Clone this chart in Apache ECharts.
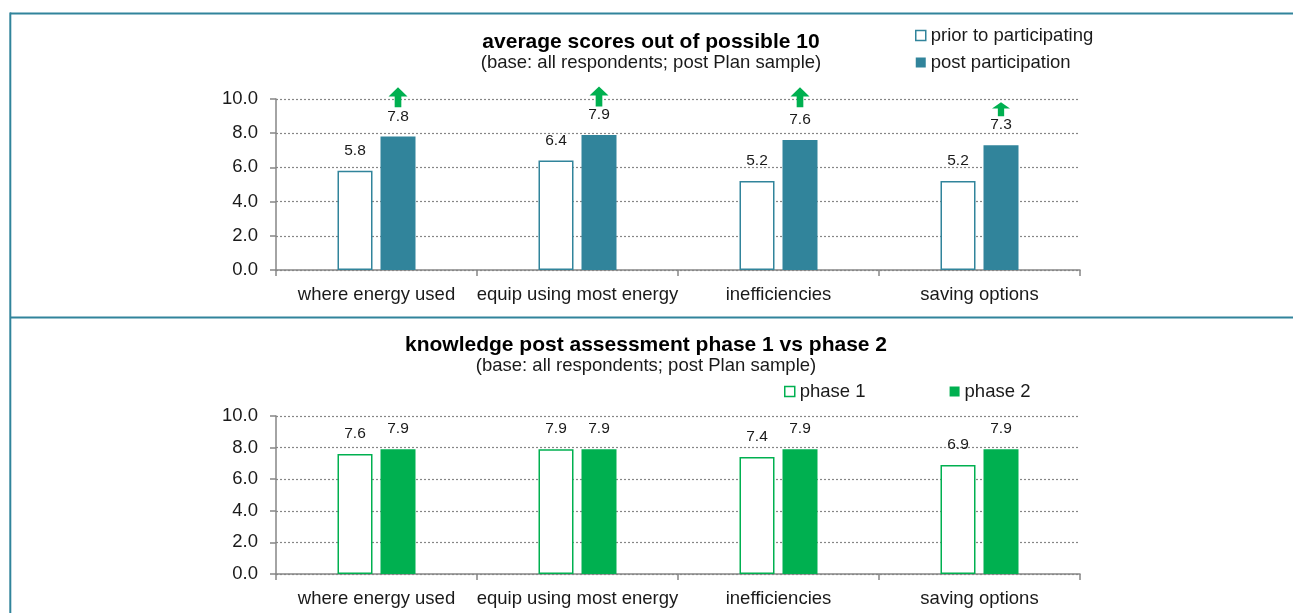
<!DOCTYPE html>
<html>
<head>
<meta charset="utf-8">
<script src="https://cdn.jsdelivr.net/npm/echarts@6/dist/echarts.min.js"></script>
<style>
  html, body { margin: 0; padding: 0; background: #fff; }
  #chart { width: 1293px; height: 613px; }
</style>
</head>
<body>
<div id="chart"></div>
<script>
// Knowledge scores by topic
const categories = ['where energy used', 'equip using most energy', 'inefficiencies', 'saving options'];
const yTicks = [0, 2, 4, 6, 8, 10];

// Upper panel: before vs after participating
const priorScores = [5.8, 6.4, 5.2, 5.2];
const postScores = [7.8, 7.9, 7.6, 7.3];
// Improvement arrows drawn above each post-participation bar
const arrowLevels = [10.1, 10.15, 10.1, 9.4];

// Lower panel: phase 1 vs phase 2
const phase1Scores = [7.6, 7.9, 7.4, 6.9];
const phase2Scores = [7.9, 7.9, 7.9, 7.9];

const TEAL = '#31849B';
const GREEN = '#00B050';
const AXIS_GREY = '#868686';
const FONT = '"Liberation Sans", Arial, sans-serif';
const TEXT = '#1a1a1a';

const BAR_W = 35;
const BAR_GAP = 8;

const chart = echarts.init(document.getElementById('chart'), null, { renderer: 'canvas' });

function xAxisFor(gridIndex) {
  return {
    type: 'category', gridIndex, data: categories,
    axisLine: { lineStyle: { color: AXIS_GREY, width: 1.5 } },
    axisTick: { show: true, length: 6, lineStyle: { color: AXIS_GREY, width: 1.5 } },
    axisLabel: { color: TEXT, fontSize: 18.5, fontFamily: FONT, margin: 15, interval: 0, hideOverlap: false }
  };
}
function yAxisFor(gridIndex) {
  return {
    type: 'value', gridIndex, min: yTicks[0], max: yTicks[yTicks.length - 1], interval: 2,
    axisLine: { show: true, lineStyle: { color: AXIS_GREY, width: 1.5 } },
    axisTick: { show: true, length: 6, lineStyle: { color: AXIS_GREY, width: 1.5 } },
    axisLabel: { color: TEXT, fontSize: 18.5, fontFamily: FONT, margin: 18,
                 formatter: v => v.toFixed(1) },
    splitLine: { show: true, lineStyle: { color: AXIS_GREY, width: 1.2, type: [2, 2] } }
  };
}
const barLabel = {
  show: true, position: 'top', distance: 12, color: TEXT, fontSize: 15.5, fontFamily: FONT,
  formatter: p => p.value.toFixed(1)
};

const arrowPath = 'path://M10,0 L20,10 L13.5,10 L13.5,22 L6.5,22 L6.5,10 L0,10 Z';
const arrowSizes = [[19, 20], [19, 20], [19, 20], [18, 14]];

const option = {
  animation: false,
  backgroundColor: '#fff',
  textStyle: { fontFamily: FONT },
  title: [
    { text: 'average scores out of possible 10', subtext: '(base: all respondents; post Plan sample)',
      left: 651, top: 32, textAlign: 'center', itemGap: 0, padding: 0,
      textStyle: { fontSize: 21, fontWeight: 'bold', color: '#000', fontFamily: FONT },
      subtextStyle: { fontSize: 18.5, color: TEXT, fontFamily: FONT } },
    { text: 'knowledge post assessment phase 1 vs phase 2', subtext: '(base: all respondents; post Plan sample)',
      left: 646, top: 335, textAlign: 'center', itemGap: 0, padding: 0,
      textStyle: { fontSize: 21, fontWeight: 'bold', color: '#000', fontFamily: FONT },
      subtextStyle: { fontSize: 18.5, color: TEXT, fontFamily: FONT } }
  ],
  legend: [
    { orient: 'vertical', left: 910, top: 20, itemWidth: 10, itemHeight: 10, itemGap: 6,
      icon: 'rect', textStyle: { fontSize: 18.5, lineHeight: 21, color: TEXT, fontFamily: FONT },
      data: [
        { name: 'prior to participating', itemStyle: { color: '#fff', borderColor: TEAL, borderWidth: 1.5 } },
        { name: 'post participation', itemStyle: { color: TEAL, borderWidth: 0 } }
      ] },
    { orient: 'horizontal', left: 779, top: 376, itemWidth: 10, itemHeight: 10, itemGap: 84,
      icon: 'rect', textStyle: { fontSize: 18.5, lineHeight: 21, color: TEXT, fontFamily: FONT },
      data: [
        { name: 'phase 1', itemStyle: { color: '#fff', borderColor: GREEN, borderWidth: 1.5 } },
        { name: 'phase 2', itemStyle: { color: GREEN, borderWidth: 0 } }
      ] }
  ],
  grid: [
    { left: 276, right: 213, top: 99, height: 171 },
    { left: 276, right: 213, top: 416, height: 158 }
  ],
  xAxis: [xAxisFor(0), xAxisFor(1)],
  yAxis: [yAxisFor(0), yAxisFor(1)],
  series: [
    { name: 'prior to participating', type: 'bar', xAxisIndex: 0, yAxisIndex: 0,
      data: priorScores, barWidth: BAR_W, barGap: (BAR_GAP / BAR_W * 100) + '%',
      itemStyle: { color: '#fff', borderColor: TEAL, borderWidth: 1.5 }, label: barLabel },
    { name: 'post participation', type: 'bar', xAxisIndex: 0, yAxisIndex: 0,
      data: postScores, barWidth: BAR_W, barGap: (BAR_GAP / BAR_W * 100) + '%',
      itemStyle: { color: TEAL }, label: barLabel },
    { name: 'improvement', type: 'scatter', xAxisIndex: 0, yAxisIndex: 0, clip: false, z: 5,
      symbol: arrowPath, silent: true,
      // sits over the second (post) bar of each category
      symbolOffset: [(BAR_W + BAR_GAP) / 2, 0],
      symbolSize: (val, p) => arrowSizes[p.dataIndex],
      itemStyle: { color: GREEN, opacity: 1 },
      data: categories.map((c, i) => [c, arrowLevels[i]]) },
    { name: 'phase 1', type: 'bar', xAxisIndex: 1, yAxisIndex: 1,
      data: phase1Scores, barWidth: BAR_W, barGap: (BAR_GAP / BAR_W * 100) + '%',
      itemStyle: { color: '#fff', borderColor: GREEN, borderWidth: 1.5 }, label: barLabel },
    { name: 'phase 2', type: 'bar', xAxisIndex: 1, yAxisIndex: 1,
      data: phase2Scores, barWidth: BAR_W, barGap: (BAR_GAP / BAR_W * 100) + '%',
      itemStyle: { color: GREEN }, label: barLabel }
  ],
  graphic: [
    // panel frame
    { type: 'line', shape: { x1: 10, y1: 13.5, x2: 1293, y2: 13.5 }, style: { stroke: TEAL, lineWidth: 2 } },
    { type: 'line', shape: { x1: 10.3, y1: 12.5, x2: 10.3, y2: 613 }, style: { stroke: TEAL, lineWidth: 2 } },
    { type: 'line', shape: { x1: 10, y1: 317.5, x2: 1293, y2: 317.5 }, style: { stroke: TEAL, lineWidth: 2 } }
  ]
};
chart.setOption(option);
</script>
</body>
</html>
